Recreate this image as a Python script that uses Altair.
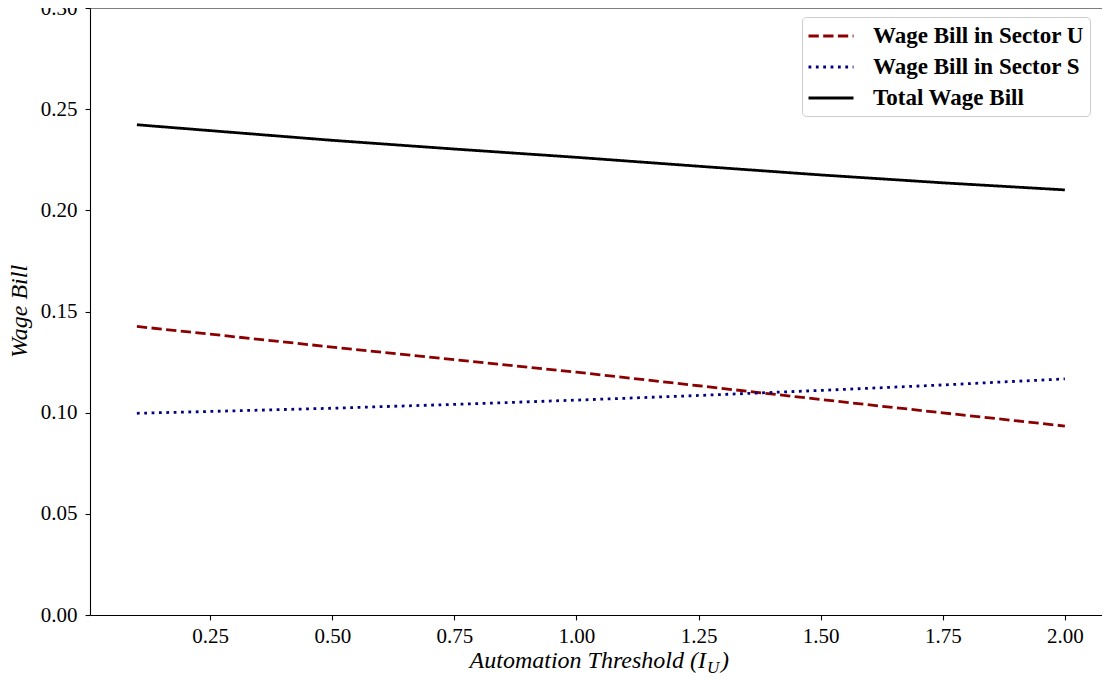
import altair as alt
import pandas as pd

# ---- data ----
x_vals = [0.1, 0.25, 0.5, 0.75, 1.0, 1.25, 1.5, 1.75, 2.0]
wage_u = [0.1426, 0.1388, 0.1324, 0.1262, 0.1200, 0.1133, 0.1065, 0.0999, 0.0934]
wage_s = [0.0997, 0.1006, 0.1022, 0.1041, 0.1062, 0.1085, 0.1110, 0.1137, 0.1167]
wage_total = [0.2423, 0.2394, 0.2346, 0.2303, 0.2262, 0.2218, 0.2175, 0.2136, 0.2101]

series_names = ["Wage Bill in Sector U", "Wage Bill in Sector S", "Total Wage Bill"]
series_colors = ["#8b0000", "#000080", "#000000"]
series_dashes = [[10.3, 4.4], [2.78, 4.58], [1, 0]]

x_ticks = [0.25, 0.5, 0.75, 1.0, 1.25, 1.5, 1.75, 2.0]
y_ticks = [0.0, 0.05, 0.10, 0.15, 0.20, 0.25, 0.30]

rows = []
for name, vals in zip(series_names, [wage_u, wage_s, wage_total]):
    for xv, yv in zip(x_vals, vals):
        rows.append({"x": xv, "y": yv, "series": name})
df = pd.DataFrame(rows)

W, H = 1012, 607
FONT = "Liberation Serif"

x_scale = alt.Scale(domain=[0.004, 2.076], nice=False, zero=False)
y_scale = alt.Scale(domain=[0, 0.30], nice=False, zero=False)

legend_kw = dict(
    orient="none", legendX=712, legendY=9, title=None,
    symbolType="M-2,0H2", symbolSize=506, symbolStrokeWidth=2.78,
    symbolOffset=10,
    labelFont=FONT, labelFontSize=23, labelFontWeight="bold", labelColor="black",
    labelOffset=29, labelLimit=500,
    fillColor="white", strokeColor="#cccccc", cornerRadius=4,
    padding=6, rowPadding=6,
)

lines = alt.Chart(df).mark_line(strokeWidth=2.78).encode(
    x=alt.X("x:Q", scale=x_scale,
            axis=alt.Axis(values=x_ticks, format=".2f", title=None, labelOverlap=False)),
    y=alt.Y("y:Q", scale=y_scale,
            axis=alt.Axis(values=y_ticks, format=".2f", title=None, labelOverlap=False)),
    color=alt.Color("series:N", sort=series_names,
                    scale=alt.Scale(domain=series_names, range=series_colors),
                    legend=alt.Legend(**legend_kw)),
    strokeDash=alt.StrokeDash("series:N", sort=series_names,
                              scale=alt.Scale(domain=series_names, range=series_dashes),
                              legend=alt.Legend(**legend_kw)),
)

one = pd.DataFrame({"a": [0]})

top_spine = alt.Chart(one).mark_rule(color="black", strokeWidth=1.1).encode(
    x=alt.value(0), x2=alt.value(W), y=alt.value(0)
)

y_title = alt.Chart(one).mark_text(
    font=FONT, fontSize=24, fontStyle="italic", angle=270,
    align="center", baseline="alphabetic", color="black"
).encode(x=alt.value(-63), y=alt.value(H / 2), text=alt.value("Wage Bill"))

x_title_main = alt.Chart(one).mark_text(
    font=FONT, fontSize=24, fontStyle="italic", align="right",
    baseline="alphabetic", color="black"
).encode(x=alt.value(616), y=alt.value(660), text=alt.value("Automation Threshold (I"))

x_title_sub = alt.Chart(one).mark_text(
    font=FONT, fontSize=17, fontStyle="italic", align="left",
    baseline="alphabetic", color="black"
).encode(x=alt.value(617), y=alt.value(665), text=alt.value("U"))

x_title_close = alt.Chart(one).mark_text(
    font=FONT, fontSize=24, fontStyle="italic", align="left",
    baseline="alphabetic", color="black"
).encode(x=alt.value(631), y=alt.value(660), text=alt.value(")"))

chart = alt.layer(
    lines, top_spine, y_title, x_title_main, x_title_sub, x_title_close
).properties(
    width=W, height=H,
    autosize=alt.AutoSizeParams(type="none"),
    padding={"left": 82, "top": 0, "right": 0, "bottom": 62},
).configure_view(stroke=None).configure_axis(
    domainColor="black", domainWidth=1.1, tickColor="black", tickWidth=1.1,
    tickSize=4.9, labelFont=FONT, labelFontSize=21, labelColor="black", grid=False,
).configure_axisX(labelPadding=6).configure_axisY(labelPadding=8)

chart.save("out.html", embed_options={"renderer": "svg", "actions": False})
